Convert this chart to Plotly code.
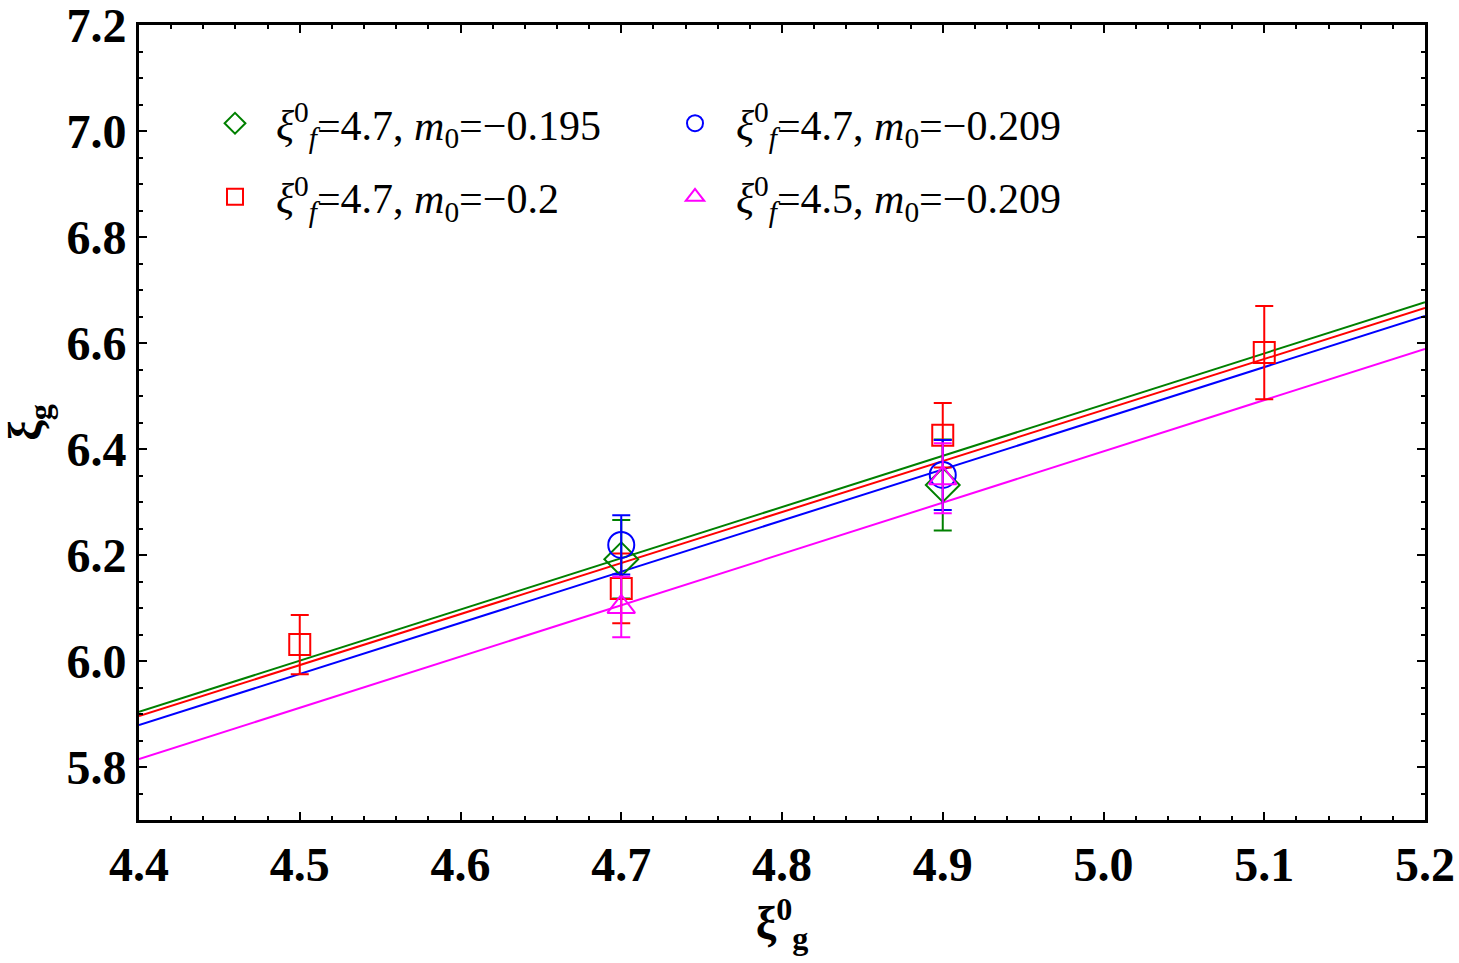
import plotly.graph_objects as go

# ---- data ----
green_x = [4.7, 4.9]
green_y = [6.192, 6.332]
green_err = [0.074, 0.086]

red_x = [4.5, 4.7, 4.9, 5.1]
red_y = [6.031, 6.137, 6.426, 6.582]
red_err = [0.056, 0.066, 0.061, 0.088]

blue_x = [4.7, 4.9]
blue_y = [6.219, 6.351]
blue_err = [0.056, 0.066]

magenta_x = [4.7, 4.9]
magenta_y = [6.102, 6.345]
magenta_err = [0.057, 0.066]

fit_x = [4.4, 5.2]
green_fit = [5.904, 6.677]
red_fit = [5.896, 6.666]
blue_fit = [5.879, 6.651]
magenta_fit = [5.815, 6.589]

x_ticks = [4.4, 4.5, 4.6, 4.7, 4.8, 4.9, 5.0, 5.1, 5.2]
y_ticks = [5.8, 6.0, 6.2, 6.4, 6.6, 6.8, 7.0, 7.2]

labels = [
    "\u2002<i>ξ</i><sup>0</sup><sub><i>f</i></sub>=4.7, <i>m</i><sub>0</sub>=−0.195",
    "\u2002<i>ξ</i><sup>0</sup><sub><i>f</i></sub>=4.7, <i>m</i><sub>0</sub>=−0.2",
    "\u2002<i>ξ</i><sup>0</sup><sub><i>f</i></sub>=4.7, <i>m</i><sub>0</sub>=−0.209",
    "\u2002<i>ξ</i><sup>0</sup><sub><i>f</i></sub>=4.5, <i>m</i><sub>0</sub>=−0.209",
]

GREEN = "#008000"
RED = "#ff0000"
BLUE = "#0000ff"
MAGENTA = "#ff00ff"

fig = go.Figure()

# fit lines
for fy, col in [(green_fit, GREEN), (red_fit, RED), (blue_fit, BLUE), (magenta_fit, MAGENTA)]:
    fig.add_trace(go.Scatter(x=fit_x, y=fy, mode="lines", line=dict(color=col, width=2),
                             showlegend=False, hoverinfo="skip"))

series = [
    (green_x, green_y, green_err, GREEN, "diamond-open", 26, labels[0], "legend", "g1"),
    (red_x, red_y, red_err, RED, "square-open", 21, labels[1], "legend", "g2"),
    (blue_x, blue_y, blue_err, BLUE, "circle-open", 26, labels[2], "legend2", "g3"),
    (magenta_x, magenta_y, magenta_err, MAGENTA, "triangle-up-open", 24, labels[3], "legend2", "g4"),
]
for xs, ys, es, col, sym, sz, lab, leg, grp in series:
    fig.add_trace(go.Scatter(
        x=xs, y=ys, mode="markers", name=lab, legend=leg, legendgroup=grp,
        marker=dict(symbol=sym, size=sz, color=col, line=dict(color=col, width=2)),
        error_y=dict(type="data", array=es, visible=True, color=col, thickness=2, width=9),
    ))

axis_common = dict(
    showline=True, linecolor="black", linewidth=3, mirror="ticks",
    ticks="inside", ticklen=8, tickwidth=2, tickcolor="black",
    showgrid=False, zeroline=False, tickmode="array", automargin=False,
    ticklabeloverflow="allow",
    tickfont=dict(family="Liberation Serif", size=48, color="black", weight="bold"),
)

eps = 1e-6
fig.update_xaxes(range=[4.4 - eps, 5.2 + eps], tickvals=x_ticks, ticktext=[f"{v:.1f}" for v in x_ticks],
                 minor=dict(ticks="inside", ticklen=4, tickwidth=2, tickcolor="black",
                            tickmode="linear", tick0=4.4, dtick=0.02),
                 title=dict(text="<b>ξ<sup>0</sup><sub>g</sub></b>", standoff=10,
                            font=dict(family="Liberation Serif", size=46, color="black")),
                 **axis_common)
fig.update_yaxes(range=[5.7, 7.2 + eps], tickvals=y_ticks, ticktext=[f"{v:.1f}" for v in y_ticks],
                 minor=dict(ticks="inside", ticklen=4, tickwidth=2, tickcolor="black",
                            tickmode="linear", tick0=5.7, dtick=0.05),
                 title=dict(text="<b>ξ<sub>g</sub></b>", standoff=20,
                            font=dict(family="Liberation Serif", size=46, color="black")),
                 **axis_common)

legend_common = dict(
    font=dict(family="Liberation Serif", size=42, color="black"),
    bgcolor="rgba(0,0,0,0)", orientation="v", xanchor="left", yanchor="top",
    tracegroupgap=16,
)
fig.update_layout(
    width=1459, height=963,
    margin=dict(l=139, r=34, t=25, b=143),
    plot_bgcolor="white", paper_bgcolor="white",
    legend=dict(x=0.0591, y=0.919, **legend_common),
    legend2=dict(x=0.4168, y=0.919, **legend_common),
)

fig.write_html("out.html")
